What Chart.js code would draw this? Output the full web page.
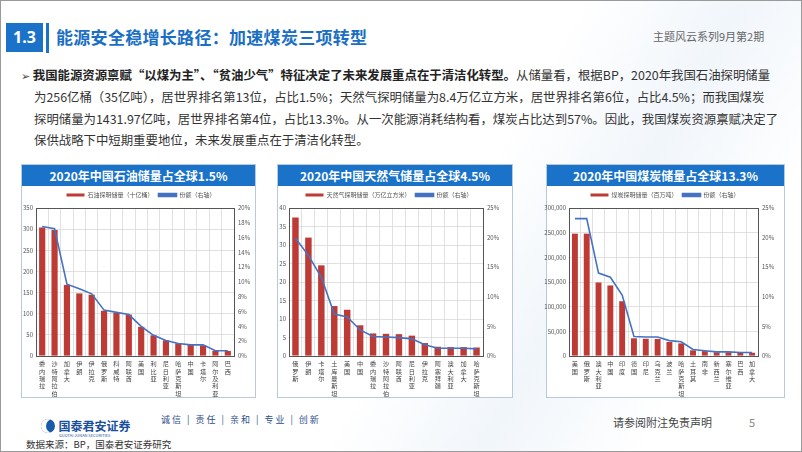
<!DOCTYPE html>
<html>
<head>
<meta charset="utf-8">
<script src="https://cdn.jsdelivr.net/npm/chart.js@4.4.0/dist/chart.umd.min.js"></script>
<style>
  body { margin: 0; width: 802px; height: 452px; overflow: hidden; background: #fff;
    font-family: "Noto Sans CJK SC", "Noto Sans", sans-serif; }
  #slide { position: absolute; left: 0; top: 0; width: 800px; height: 450px; border: 1px solid #9a9a9a;
    background: linear-gradient(120deg, #ffffff 0%, #ffffff 55%, #f1f6fb 70%, #ffffff 85%); overflow: hidden; }
  .abs { position: absolute; }
  #secNo { left: 5px; top: 22px; width: 37px; height: 29px; background: #1a73c9; color: #fff;
    font: bold 16px "Noto Sans", sans-serif; text-align: center; line-height: 29px; }
  #secBar { left: 45px; top: 22px; width: 3px; height: 30px; background: #1a73c9; }
  #title { left: 55px; top: 23px; color: #1a6fc4; font-size: 17px; font-weight: bold; letter-spacing: 0.3px; }
  #series { left: 652px; top: 27px; color: #666; font-size: 11px; }
  #text { left: 20px; top: 64px; width: 770px; font-size: 12.4px; line-height: 21.8px; color: #333; white-space: nowrap; }
  #text b { color: #222; }
  .panel { border: 1px solid #b9c9dd; background: #fff; height: 232px; }
  .phead { position: absolute; left: 0; right: 0; top: 0; height: 21px; background: #1a73c9; color: #fff;
    font-weight: bold; font-size: 12px; text-align: center; line-height: 21px; }
  canvas { position: absolute; }
  #logo { left: 40px; top: 410px; }
  #slogan { left: 160px; top: 412px; font-size: 9px; color: #2c4f8c; letter-spacing: 2px; }
  #disc { left: 612px; top: 413px; font-size: 11px; color: #444; }
  #page { left: 748px; top: 413px; font-size: 11px; color: #888; }
  #src { left: 25px; top: 436px; font-size: 9.5px; color: #333; }
</style>
</head>
<body>
<div id="slide">
  <div id="secNo" class="abs">1.3</div>
  <div id="secBar" class="abs"></div>
  <div id="title" class="abs">能源安全稳增长路径：加速煤炭三项转型</div>
  <div id="series" class="abs">主题风云系列9月第2期</div>
  <div id="text" class="abs">
    <span style="font-size:11px;color:#444">➢</span>&nbsp;<b>我国能源资源禀赋“以煤为主”、“贫油少气”特征决定了未来发展重点在于清洁化转型。</b>从储量看，根据BP，2020年我国石油探明储量<br>
    <span style="padding-left:13px"></span>为256亿桶（35亿吨），居世界排名第13位，占比1.5%；天然气探明储量为8.4万亿立方米，居世界排名第6位，占比4.5%；而我国煤炭<br>
    <span style="padding-left:13px"></span>探明储量为1431.97亿吨，居世界排名第4位，占比13.3%。从一次能源消耗结构看，煤炭占比达到57%。因此，我国煤炭资源禀赋决定了<br>
    <span style="padding-left:13px"></span>保供战略下中短期重要地位，未来发展重点在于清洁化转型。
  </div>

  <div class="abs panel" style="left:20px;top:163px;width:233px;"><div class="phead">2020年中国石油储量占全球1.5%</div></div>
  <div class="abs panel" style="left:276px;top:163px;width:234px;"><div class="phead">2020年中国天然气储量占全球4.5%</div></div>
  <div class="abs panel" style="left:545px;top:163px;width:237px;"><div class="phead">2020年中国煤炭储量占全球13.3%</div></div>

  <canvas id="oilChart" style="left:16px;top:186px;width:248px;height:210px;" width="248" height="210"></canvas>
  <canvas id="gasChart" style="left:263px;top:186px;width:250px;height:210px;" width="250" height="210"></canvas>
  <canvas id="coalChart" style="left:540px;top:186px;width:248px;height:210px;" width="248" height="210"></canvas>

  <div id="logo" class="abs">
    <span style="display:inline-block;width:14px;height:14px;border-radius:50%;background:#1a5aa8;vertical-align:middle;box-shadow:inset 5px 0 0 #fff;"></span>
    <span style="font-size:12px;font-weight:bold;color:#1a4f9a;vertical-align:middle;">国泰君安证券</span>
    <div style="font-size:4px;color:#1a4f9a;margin-left:18px;margin-top:-3px;">GUOTAI JUNAN SECURITIES</div>
  </div>
  <div id="slogan" class="abs">诚信 | 责任 | 亲和 | 专业 | 创新</div>
  <div id="disc" class="abs">请参阅附注免责声明</div>
  <div id="page" class="abs">5</div>
  <div id="src" class="abs">数据来源：BP，国泰君安证券研究</div>
</div>

<script>
// 石油 (十亿桶) and share (%)
const oilCountries = ['委内瑞拉', '沙特阿拉伯', '加拿大', '伊朗', '伊拉克', '俄罗斯', '科威特', '阿联酋', '美国', '利比亚', '尼日利亚', '哈萨克斯坦', '中国', '卡塔尔', '阿尔及利亚', '巴西'];
const oilReserves = [304, 298, 168, 148, 145, 107, 102, 98, 69, 49, 37, 30, 26, 25, 12, 12];
const oilShare = [17.5, 17.2, 9.7, 9.1, 8.4, 6.2, 5.9, 5.6, 4.0, 2.8, 2.1, 1.7, 1.5, 1.5, 0.7, 0.7];

// 天然气 (万亿立方米)
const gasCountries = ['俄罗斯', '伊朗', '卡塔尔', '土库曼斯坦', '美国', '中国', '委内瑞拉', '沙特阿拉伯', '阿联酋', '尼日利亚', '伊拉克', '阿塞拜疆', '澳大利亚', '加拿大', '哈萨克斯坦'];
const gasReserves = [37.4, 32.0, 24.5, 13.5, 12.5, 8.3, 6.1, 6.0, 5.9, 5.5, 3.5, 2.5, 2.4, 2.4, 2.3];
const gasShare = [19.9, 17.0, 13.3, 7.1, 6.6, 4.4, 3.3, 3.2, 3.1, 2.9, 1.9, 1.3, 1.3, 1.3, 1.2];

// 煤炭 (百万吨)
const coalCountries = ['美国', '俄罗斯', '澳大利亚', '中国', '印度', '德国', '印尼', '乌克兰', '波兰', '哈萨克斯坦', '土耳其', '南非', '新西兰', '塞尔维亚', '巴西', '加拿大'];
const coalReserves = [248000, 248000, 149000, 143000, 111000, 35900, 34900, 34400, 28400, 25600, 11500, 9900, 7600, 7500, 6600, 6600];
const coalShare = [23.2, 23.2, 14.0, 13.3, 10.3, 3.3, 3.2, 3.2, 2.6, 2.4, 1.1, 0.9, 0.7, 0.7, 0.6, 0.6];

const BAR_RED = '#be3b35';
const LINE_BLUE = '#4472c4';
const TICK_FONT = { family: '"Noto Sans CJK SC", sans-serif', size: 6 };

// box around the plot area, like the Excel source
const plotBorder = {
  id: 'plotBorder',
  afterDraw(chart) {
    const { ctx, chartArea: a } = chart;
    ctx.save();
    ctx.strokeStyle = '#555';
    ctx.lineWidth = 1;
    ctx.strokeRect(a.left + 0.5, a.top + 0.5, a.right - a.left, a.bottom - a.top);
    ctx.restore();
  }
};

function makeChart(id, cfg) {
  const { labels, bars, share, barLabel, leftMax, leftStep, rightMax, rightStep, leftW, rightW } = cfg;
  return new Chart(document.getElementById(id), {
    type: 'bar',
    data: {
      // one character per line -> vertical category text
      labels: labels.map(s => s.split('')),
      datasets: [
        {
          type: 'line', label: '份额（右轴）', data: share, yAxisID: 'y1',
          borderColor: LINE_BLUE, backgroundColor: LINE_BLUE, borderWidth: 1.6,
          pointRadius: 0, tension: 0, order: 0
        },
        {
          label: barLabel, data: bars, yAxisID: 'y',
          backgroundColor: BAR_RED, barPercentage: 0.5, categoryPercentage: 1, order: 1
        }
      ]
    },
    options: {
      responsive: false,
      animation: false,
      layout: { padding: { top: 0, bottom: 0 } },
      plugins: {
        legend: {
          position: 'top', reverse: true,
          labels: { boxWidth: 18, boxHeight: 3, padding: 5, color: '#555', font: { ...TICK_FONT, size: 6 } }
        },
        tooltip: { enabled: false }
      },
      scales: {
        x: {
          grid: { color: '#d9d9d9', lineWidth: 0.8, offset: true, drawTicks: false },
          border: { display: false },
          ticks: { autoSkip: false, maxRotation: 0, minRotation: 0, padding: 4, color: '#444', font: { ...TICK_FONT, size: 6.2, lineHeight: 1.2 } },
          afterFit: s => { s.height = 41; }
        },
        y: {
          position: 'left', min: 0, max: leftMax,
          ticks: { stepSize: leftStep, color: '#555', font: TICK_FONT, padding: 3 },
          grid: { color: '#d9d9d9', lineWidth: 0.8, drawTicks: false },
          border: { display: false },
          afterFit: s => { s.width = leftW; }
        },
        y1: {
          position: 'right', min: 0, max: rightMax,
          ticks: { stepSize: rightStep, color: '#555', font: TICK_FONT, padding: 4, callback: v => v + '%' },
          grid: { display: false, drawTicks: false },
          border: { display: false },
          afterFit: s => { s.width = rightW; }
        }
      }
    },
    plugins: [plotBorder]
  });
}

makeChart('oilChart', {
  labels: oilCountries, bars: oilReserves, share: oilShare,
  barLabel: '石油探明储量（十亿桶）', leftMax: 350, leftStep: 50, rightMax: 20, rightStep: 2,
  leftW: 19, rightW: 31
});
makeChart('gasChart', {
  labels: gasCountries, bars: gasReserves, share: gasShare,
  barLabel: '天然气探明储量（万亿立方米）', leftMax: 40, leftStep: 5, rightMax: 25, rightStep: 5,
  leftW: 25, rightW: 31
});
makeChart('coalChart', {
  labels: coalCountries, bars: coalReserves, share: coalShare,
  barLabel: '煤炭探明储量（百万吨）', leftMax: 300000, leftStep: 50000, rightMax: 25, rightStep: 5,
  leftW: 28, rightW: 31
});
</script>
</body>
</html>
